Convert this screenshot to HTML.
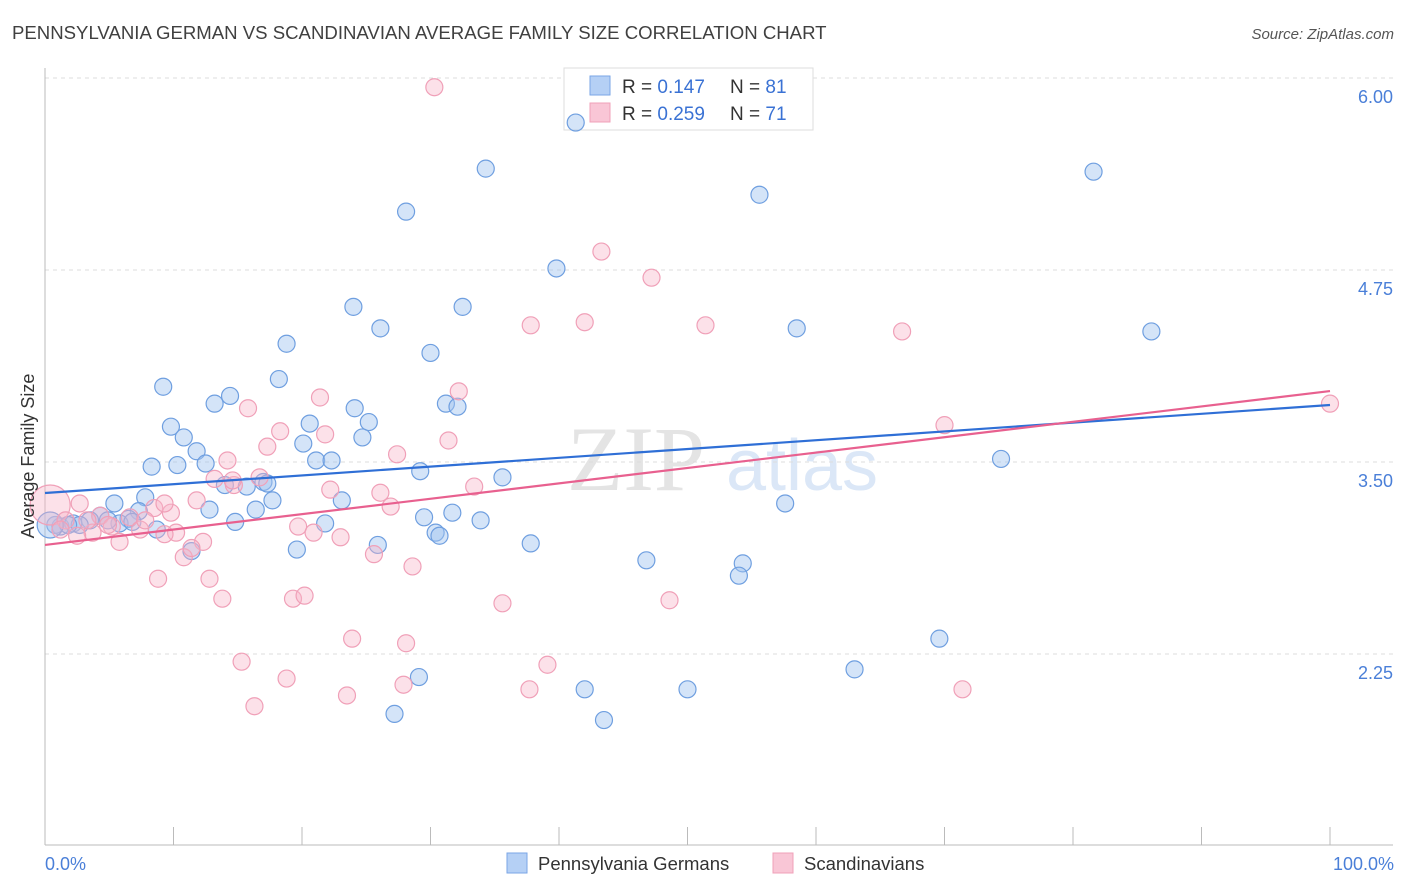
<!DOCTYPE html>
<html><head><meta charset="utf-8"><style>
body{margin:0;background:#fff;font-family:"Liberation Sans",sans-serif;}
#wrap{position:relative;width:1406px;height:892px;overflow:hidden;}
</style></head><body>
<div id="wrap">
<svg id="chart" width="1406" height="892" xmlns="http://www.w3.org/2000/svg" font-family="Liberation Sans, sans-serif">
<text x="12" y="39" font-size="18.6" fill="#404040">PENNSYLVANIA GERMAN VS SCANDINAVIAN AVERAGE FAMILY SIZE CORRELATION CHART</text>
<text x="1394" y="39" font-size="15" fill="#555" font-style="italic" text-anchor="end">Source: ZipAtlas.com</text>
<text x="636" y="490" font-size="92" fill="#e4e4e4" font-family="Liberation Serif, serif" text-anchor="middle">ZIP</text>
<text x="802" y="490" font-size="72" fill="#dbe7f7" text-anchor="middle">atlas</text>
<g id="grid"></g>
<g id="axes"></g>
<g>
<rect x="564" y="68" width="249" height="62" fill="#fff" stroke="#ddd"/>
<rect x="590" y="76" width="20" height="19" fill="#b5d0f5" stroke="#7aa6e6"/>
<rect x="590" y="103" width="20" height="19" fill="#f9c6d6" stroke="#f0a0b8"/>
<text x="622" y="93" font-size="19" fill="#333">R = <tspan fill="#3a72d4">0.147</tspan><tspan x="730">N = </tspan><tspan fill="#3a72d4">81</tspan></text>
<text x="622" y="120" font-size="19" fill="#333">R = <tspan fill="#3a72d4">0.259</tspan><tspan x="730">N = </tspan><tspan fill="#3a72d4">71</tspan></text>
</g>
<g id="pts"></g>
<g id="lines"></g>
<text transform="translate(34,456) rotate(-90)" font-size="18" fill="#333" text-anchor="middle">Average Family Size</text>
<text x="45" y="870" font-size="18" fill="#4a7fd8">0.0%</text>
<text x="1394" y="870" font-size="18" fill="#4a7fd8" text-anchor="end">100.0%</text>
<g>
<rect x="507" y="853" width="20" height="20" fill="#b5d0f5" stroke="#7aa6e6"/>
<text x="538" y="870" font-size="18.5" fill="#333">Pennsylvania Germans</text>
<rect x="773" y="853" width="20" height="20" fill="#f9c6d6" stroke="#f0a0b8"/>
<text x="804" y="870" font-size="18.5" fill="#333">Scandinavians</text>
</g>
</svg>
</div>
<script>
const yTicks=[6.00,4.75,3.50,2.25];
const blueX=[41.3,34.3,81.6,55.6,28.1,39.8,24.0,32.5,26.1,58.5,86.1,18.8,30.0,18.2,9.2,14.4,13.2,31.2,32.1,24.1,20.6,25.2,9.8,10.8,24.7,20.1,11.8,8.3,10.3,12.5,21.1,22.3,74.4,29.2,35.6,14.0,15.7,17.0,17.3,17.7,7.8,5.4,23.1,57.6,12.8,16.4,7.3,29.5,31.7,4.3,6.5,3.5,33.9,14.8,21.8,1.2,0.8,2.2,2.7,5.8,6.8,8.7,30.4,30.7,25.9,19.6,37.8,11.4,46.8,54.3,54.0,69.6,63.0,29.1,42.0,50.0,27.2,43.5,1.8,4.9,0.4];
const blueY=[5.71,5.41,5.39,5.24,5.13,4.76,4.51,4.51,4.37,4.37,4.35,4.27,4.21,4.04,3.99,3.93,3.88,3.88,3.86,3.85,3.75,3.76,3.73,3.66,3.66,3.62,3.57,3.47,3.48,3.49,3.51,3.51,3.52,3.44,3.40,3.35,3.34,3.37,3.36,3.25,3.27,3.23,3.25,3.23,3.19,3.19,3.18,3.14,3.17,3.15,3.13,3.12,3.12,3.11,3.10,3.08,3.09,3.10,3.09,3.10,3.11,3.06,3.04,3.02,2.96,2.93,2.97,2.92,2.86,2.84,2.76,2.35,2.15,2.10,2.02,2.02,1.86,1.82,3.09,3.12,3.09];
const blueSize=blueX.map((v,i)=>i===blueX.length-1?13:8.5);
const pinkX=[30.3,43.3,47.2,37.8,42.0,51.4,66.7,32.2,21.4,15.8,70.0,100,18.3,21.8,31.4,17.3,27.4,14.2,16.7,13.2,14.7,33.4,22.2,26.1,11.8,26.9,0.4,2.7,8.5,9.8,19.7,6.6,4.3,23.0,12.3,5.8,3.7,20.9,10.2,9.3,7.4,5.2,25.6,10.8,28.6,8.8,12.8,13.8,19.3,20.2,35.6,48.6,23.9,28.1,15.3,39.1,18.8,23.5,27.9,37.7,71.4,16.3,1.6,3.3,7.8,1.2,4.9,2.5,11.4,9.3,14.6];
const pinkY=[5.94,4.87,4.70,4.39,4.41,4.39,4.35,3.96,3.92,3.85,3.74,3.88,3.70,3.68,3.64,3.60,3.55,3.51,3.40,3.39,3.35,3.34,3.32,3.30,3.25,3.21,3.22,3.23,3.20,3.17,3.08,3.14,3.15,3.01,2.98,2.98,3.04,3.04,3.04,3.03,3.06,3.08,2.90,2.88,2.82,2.74,2.74,2.61,2.61,2.63,2.58,2.60,2.35,2.32,2.20,2.18,2.09,1.98,2.05,2.02,2.02,1.91,3.12,3.12,3.12,3.06,3.09,3.02,2.94,3.23,3.38];
const pinkSize=pinkX.map((v,i)=>i===26?20:8.5);
const trendBlue=[3.298,3.871];
const trendPink=[2.960,3.962];
const X0=45,X1=1330,YTOP=78,PXU=153.6;
const sx=v=>X0+v/100*(X1-X0);
const sy=v=>YTOP+(6-v)*PXU;
const NS="http://www.w3.org/2000/svg";
function mk(tag,attrs,parent){const e=document.createElementNS(NS,tag);for(const k in attrs)e.setAttribute(k,attrs[k]);parent.appendChild(e);return e;}
const grid=document.getElementById('grid'),axes=document.getElementById('axes'),pts=document.getElementById('pts'),lines=document.getElementById('lines');
yTicks.forEach(t=>{
 const l=mk('line',{x1:X0,x2:1393,y1:sy(t),y2:sy(t),stroke:'#ddd','stroke-dasharray':'4,4'},grid);
 
 
 const tx=mk('text',{x:1393,y:sy(t)+25,'font-size':18,fill:'#4a7fd8','text-anchor':'end'},grid);
 tx.textContent=t.toFixed(2);
 
 
});
const ya=mk('line',{x1:X0,x2:X0,y1:68,y2:845,stroke:'#bbb'},axes);


const xa=mk('line',{x1:X0,x2:1393,y1:845,y2:845,stroke:'#bbb'},axes);


for(let i=0;i<=10;i++){const t=mk('line',{x1:sx(i*10),x2:sx(i*10),y1:827,y2:845,stroke:'#bbb'},axes);
 
 }
blueX.forEach((v,i)=>{const c=mk('circle',{cx:sx(v),cy:sy(blueY[i]),r:blueSize[i],fill:'rgba(160,196,240,0.45)',stroke:'#6f9fe0','stroke-width':1.2},pts);
 
 });
pinkX.forEach((v,i)=>{const c=mk('circle',{cx:sx(v),cy:sy(pinkY[i]),r:pinkSize[i],fill:'rgba(248,180,200,0.4)',stroke:'#f0a0b8','stroke-width':1.2},pts);
 
 });
const lb=mk('line',{x1:sx(0),y1:sy(trendBlue[0]),x2:sx(100),y2:sy(trendBlue[1]),stroke:'#2f6fd6','stroke-width':2.2},lines);


const lp=mk('line',{x1:sx(0),y1:sy(trendPink[0]),x2:sx(100),y2:sy(trendPink[1]),stroke:'#e8608f','stroke-width':2.2},lines);


</script>
</body></html>
